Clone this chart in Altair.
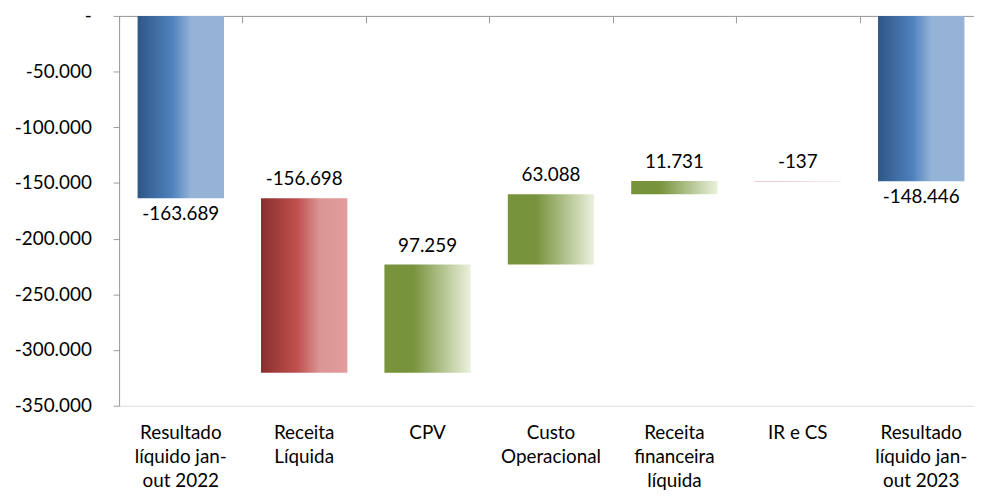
import altair as alt
import pandas as pd

categories = [
    "Resultado|líquido jan-|out 2022",
    "Receita|Líquida",
    "CPV",
    "Custo|Operacional",
    "Receita|financeira|líquida",
    "IR e CS",
    "Resultado|líquido jan-|out 2023",
]
values = [-163689, -156698, 97259, 63088, 11731, -137, -148446]
kinds = ["total", "delta", "delta", "delta", "delta", "delta", "total"]
groups = ["blue", "red", "green", "green", "green", "red", "blue"]
y_ticks = [0, -50000, -100000, -150000, -200000, -250000, -300000, -350000]

rows = []
running = 0
for cat, v, k, g in zip(categories, values, kinds, groups):
    if k == "total":
        start, end = 0, v
    else:
        start, end = running, running + v
    running = end
    rows.append({
        "cat": cat, "value": v, "kind": k, "group": g,
        "start": start, "end": end,
        "label": f"{v:,}".replace(",", "."),
        "low": min(start, end), "high": max(start, end),
    })
df = pd.DataFrame(rows)

FONT = "Lato"
FS = 19

def grad(stops):
    return alt.LinearGradient(
        gradient="linear", x1=0, x2=1, y1=0, y2=0,
        stops=[alt.GradientStop(color=c, offset=o) for o, c in stops],
    )

gradients = {
    "blue": grad([(0, "#2e5687"), (0.4, "#4f81bd"), (0.62, "#95b3d7"), (1, "#95b3d7")]),
    "red": grad([(0, "#8a2f2e"), (0.42, "#c0504d"), (0.68, "#d99694"), (1, "#e49c9c")]),
    "green": grad([(0, "#77933c"), (0.33, "#77933c"), (1, "#ebf1de")]),
}

x_scale = alt.Scale(domain=categories, range=[0, 871], paddingInner=0, paddingOuter=0)
y_scale = alt.Scale(domain=[-350000, 0], nice=False, zero=False)

base = alt.Chart(df)

axis_labels = alt.Axis(
    orient="bottom", domain=False, ticks=False, labelAngle=0,
    labelExpr="split(datum.label, '|')", labelFont=FONT, labelFontSize=FS,
    labelColor="#000000", labelLineHeight=24, labelPadding=18,
    labelBaseline="top",
)
axis_line = alt.Axis(
    orient="bottom", offset=-393, labels=False, domain=True,
    domainColor="#9a9a9a", tickColor="#9a9a9a", tickSize=7,
    tickBand="extent", grid=False,
)
x_axes = {"blue": axis_labels, "red": axis_line, "green": None}

y_enc = alt.Y(
    "start:Q", scale=y_scale, title=None,
    axis=alt.Axis(
        values=y_ticks, grid=False, domainColor="#9a9a9a", tickColor="#9a9a9a",
        tickSize=6, labelPadding=22, labelFont=FONT, labelFontSize=FS,
        labelColor="#000000",
        labelExpr="datum.value == 0 ? '-' : (datum.value < 0 ? '-' : '') + replace(format(abs(datum.value), ','), ',', '.')",
    ),
)

layers = []
for g in ["blue", "red", "green"]:
    layers.append(
        base.transform_filter(alt.datum.group == g)
        .mark_bar(color=gradients[g], width=alt.RelativeBandSize(0.7))
        .encode(
            x=alt.X("cat:N", scale=x_scale, sort=categories, title=None, axis=x_axes[g]),
            y=y_enc, y2="end:Q",
        )
    )

txt_total = base.transform_filter(alt.datum.kind == "total").mark_text(
    font=FONT, fontSize=FS, color="#000000", baseline="alphabetic", dy=22
).encode(
    x=alt.X("cat:N", scale=x_scale, sort=categories, title=None, axis=None),
    y=alt.Y("low:Q", scale=y_scale, title=None),
    text="label:N",
)

txt_delta = base.transform_filter(alt.datum.kind == "delta").mark_text(
    font=FONT, fontSize=FS, color="#000000", baseline="alphabetic", dy=-13
).encode(
    x=alt.X("cat:N", scale=x_scale, sort=categories, title=None, axis=None),
    y=alt.Y("high:Q", scale=y_scale, title=None),
    text="label:N",
)

chart = (
    alt.layer(*layers, txt_total, txt_delta)
    .resolve_axis(x="independent")
    .properties(
        width=862, height=393,
        autosize=alt.AutoSizeParams(type="none"),
        padding={"left": 112, "top": 6, "right": 0, "bottom": 85},
    )
    .configure_view(stroke=None)
    .configure(background="#ffffff")
)

chart.save("out.html", embed_options={"renderer": "svg", "actions": False})
